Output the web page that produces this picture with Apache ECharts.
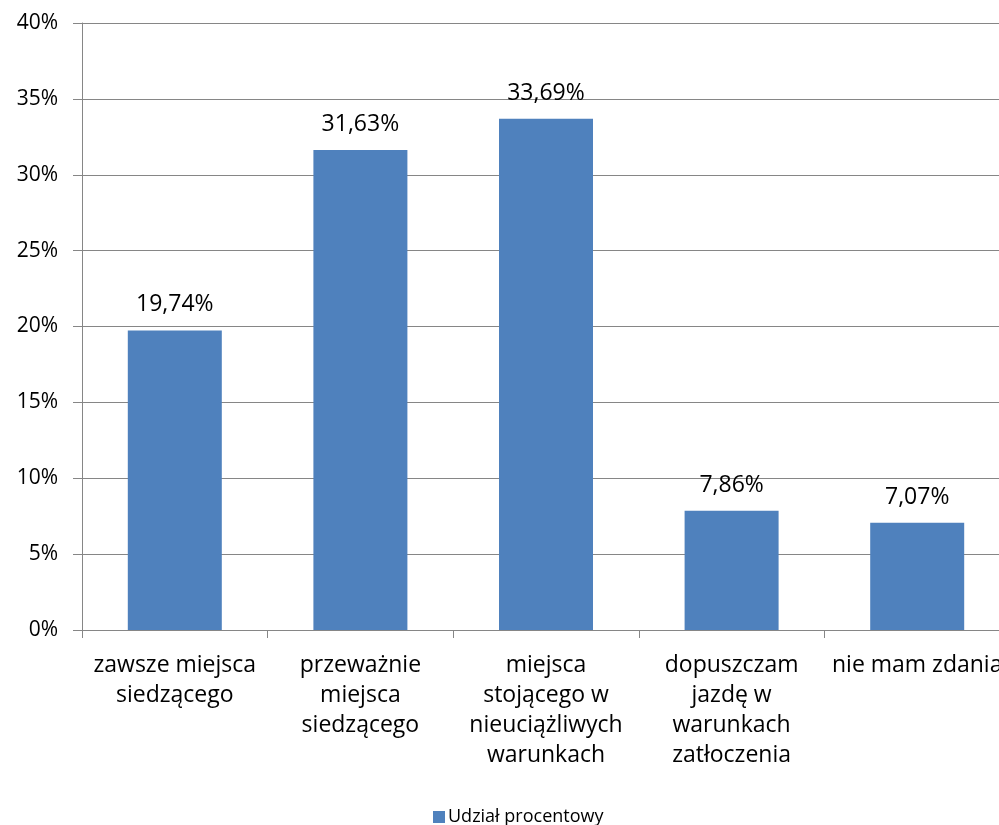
<!DOCTYPE html>
<html>
<head>
<meta charset="utf-8">
<script src="https://cdn.jsdelivr.net/npm/echarts@6/dist/echarts.min.js"></script>
<style>
  html, body { margin: 0; padding: 0; background: #fff; }
  #chart { width: 999px; height: 825px; }
</style>
</head>
<body>
<div id="chart"></div>
<script>
// Answer categories (line breaks as shown under the axis)
const categories = [
  'zawsze miejsca\nsiedzącego',
  'przeważnie\nmiejsca\nsiedzącego',
  'miejsca\nstojącego w\nnieuciążliwych\nwarunkach',
  'dopuszczam\njazdę w\nwarunkach\nzatłoczenia',
  'nie mam zdania'
];
// Percentage share per answer
const shares = [19.74, 31.63, 33.69, 7.86, 7.07];
const seriesName = 'Udział procentowy';
// Value axis range
const yMin = 0, yMax = 40, yStep = 5;

const FONT = '"Open Sans", sans-serif';
const GRID_COLOR = '#868686';

const chart = echarts.init(document.getElementById('chart'), null, { renderer: 'canvas' });
chart.setOption({
  animation: false,
  backgroundColor: '#fff',
  // plot area runs a little past the right edge of the canvas
  grid: { left: 82, width: 928, top: 23, bottom: 195, containLabel: false, outerBoundsMode: 'none' },
  legend: {
    data: [seriesName],
    left: 428,
    bottom: -6,
    itemWidth: 12,
    itemHeight: 12,
    itemGap: 10,
    textStyle: { fontFamily: FONT, fontSize: 18, color: '#000', padding: [0, 0, 0, -2] },
    icon: 'rect'
  },
  xAxis: {
    type: 'category',
    data: categories,
    axisLine: { lineStyle: { color: GRID_COLOR, width: 1 } },
    axisTick: { show: true, alignWithLabel: false, length: 8, lineStyle: { color: GRID_COLOR } },
    axisLabel: {
      interval: 0,
      fontFamily: FONT,
      fontSize: 23,
      color: '#000',
      lineHeight: 30,
      margin: 20
    }
  },
  yAxis: {
    type: 'value',
    min: yMin,
    max: yMax,
    interval: yStep,
    axisLine: { show: true, lineStyle: { color: GRID_COLOR, width: 1 } },
    axisTick: { show: true, length: 9, lineStyle: { color: GRID_COLOR } },
    splitLine: { show: true, lineStyle: { color: GRID_COLOR, width: 1 } },
    axisLabel: {
      fontFamily: FONT,
      fontSize: 21,
      color: '#000',
      margin: 24,
      formatter: v => v + '%'
    }
  },
  series: [{
    name: seriesName,
    type: 'bar',
    data: shares,
    barWidth: 94,
    itemStyle: { color: '#4F81BD' },
    label: {
      show: true,
      position: 'top',
      distance: 14,
      fontFamily: FONT,
      fontSize: 23,
      color: '#000',
      formatter: p => p.value.toFixed(2).replace('.', ',') + '%'
    }
  }]
});
</script>
</body>
</html>
